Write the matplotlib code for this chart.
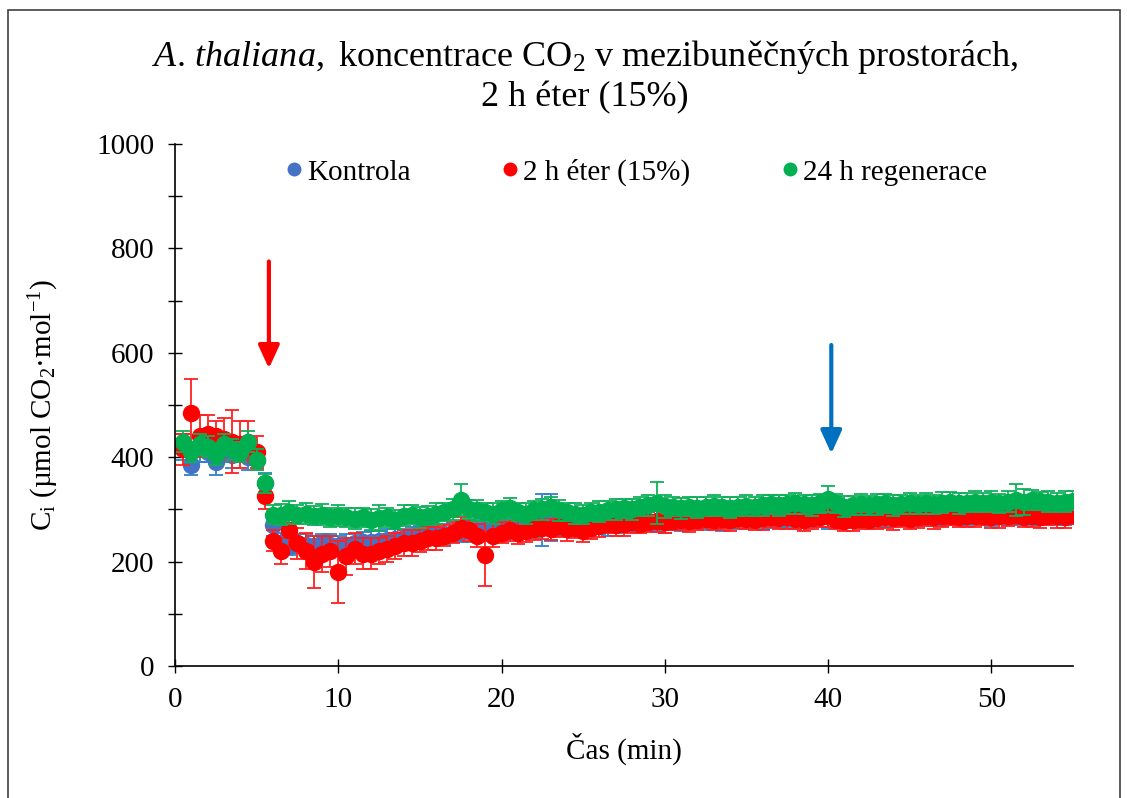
import numpy as np
import matplotlib
matplotlib.use("Agg")
import matplotlib.pyplot as plt
from matplotlib.lines import Line2D
from matplotlib.patches import Rectangle

plt.rcParams["font.family"] = ["Liberation Serif", "DejaVu Serif"]
plt.rcParams["mathtext.fontset"] = "custom"
plt.rcParams["mathtext.rm"] = "Liberation Serif"
plt.rcParams["mathtext.it"] = "Liberation Serif:italic"

# time axis, one reading every 30 s
cas = np.arange(0.5, 55.01, 0.5)

kontrola = [
    420, 385, 415, 410, 390, 410, 405, 410, 400, 395,
    350, 270, 235, 230, 235, 232, 230, 235, 232, 230,
    232, 235, 237, 238, 240, 242, 243, 245, 247, 248,
    250, 252, 253, 255, 257, 258, 258, 260, 262, 262,
    264, 265, 266, 268, 280, 285, 270, 268, 270, 270,
    272, 273, 274, 275, 275, 276, 277, 278, 278, 276,
    278, 279, 280, 280, 281, 282, 281, 282, 283, 283,
    284, 283, 284, 285, 284, 285, 286, 285, 286, 287,
    285, 284, 285, 286, 286, 287, 287, 288, 287, 288,
    288, 289, 289, 288, 289, 290, 289, 290, 290, 289,
    290, 290, 291, 290, 291, 290, 291, 290, 291, 292,
]
kontrola_err = [
    25, 20, 25, 20, 25, 20, 25, 20, 25, 20,
    20, 20, 20, 18, 18, 20, 20, 18, 20, 20,
    20, 18, 20, 20, 18, 20, 20, 18, 20, 20,
    18, 20, 20, 18, 20, 20, 18, 20, 20, 18,
    20, 18, 20, 20, 50, 45, 20, 18, 20, 20,
    18, 20, 25, 20, 18, 20, 20, 18, 20, 22,
    18, 20, 20, 18, 20, 20, 22, 18, 20, 20,
    18, 20, 20, 18, 20, 22, 20, 18, 20, 25,
    20, 18, 20, 20, 18, 20, 20, 22, 18, 20,
    20, 18, 20, 20, 18, 20, 20, 18, 20, 20,
    18, 20, 20, 18, 20, 20, 18, 20, 20, 18,
]

eter = [
    415, 485, 440, 445, 440, 435, 430, 425, 430, 410,
    325, 240, 220, 260, 235, 220, 200, 215, 220, 180,
    210, 225, 215, 215, 220, 225, 230, 235, 235, 240,
    245, 245, 250, 255, 265, 260, 250, 213, 250, 255,
    260, 255, 258, 262, 265, 262, 268, 262, 265, 258,
    265, 268, 272, 270, 272, 275, 273, 276, 278, 275,
    278, 280, 278, 280, 282, 280, 282, 280, 283, 282,
    280, 283, 285, 283, 285, 282, 280, 283, 285, 287,
    280, 278, 280, 282, 280, 283, 285, 283, 285, 282,
    285, 287, 285, 287, 288, 286, 288, 287, 288, 285,
    287, 288, 290, 286, 288, 285, 288, 287, 285, 290,
]
eter_err = [
    30, 65, 40, 35, 30, 40, 60, 45, 40, 30,
    25, 20, 25, 30, 30, 35, 50, 35, 30, 60,
    35, 30, 30, 30, 25, 25, 25, 25, 25, 22,
    22, 22, 20, 20, 20, 20, 22, 60, 22, 20,
    20, 22, 20, 20, 22, 20, 20, 22, 20, 20,
    22, 20, 18, 20, 22, 20, 18, 20, 22, 20,
    18, 20, 22, 20, 18, 20, 20, 22, 18, 20,
    20, 22, 18, 20, 22, 20, 22, 20, 18, 20,
    18, 20, 22, 20, 18, 20, 20, 22, 18, 20,
    20, 18, 22, 20, 18, 20, 22, 20, 18, 20,
    22, 20, 18, 20, 22, 20, 18, 22, 20, 18,
]

regenerace = [
    430, 410, 425, 420, 405, 425, 415, 410, 430, 395,
    350, 290, 290, 295, 290, 292, 288, 290, 285, 288,
    285, 282, 285, 280, 283, 285, 280, 288, 290, 285,
    288, 292, 295, 300, 318, 300, 298, 295, 292, 298,
    302, 295, 292, 298, 300, 305, 298, 295, 292, 290,
    295, 296, 298, 300, 302, 300, 305, 308, 312, 306,
    305, 302, 305, 303, 305, 307, 305, 303, 305, 307,
    305, 308, 310, 308, 310, 312, 310, 308, 312, 320,
    312, 305, 308, 310, 308, 310, 312, 308, 310, 312,
    310, 312, 310, 313, 315, 312, 313, 315, 313, 315,
    312, 315, 318, 315, 318, 316, 315, 313, 315, 317,
]
regenerace_err = [
    20, 20, 20, 20, 20, 20, 20, 20, 20, 20,
    18, 18, 20, 22, 18, 20, 18, 20, 18, 20,
    18, 20, 18, 20, 25, 18, 18, 20, 18, 20,
    18, 20, 18, 20, 30, 18, 20, 18, 20, 18,
    20, 18, 20, 18, 20, 18, 20, 18, 20, 18,
    18, 20, 18, 20, 18, 20, 18, 20, 40, 22,
    18, 20, 18, 20, 18, 20, 18, 20, 18, 20,
    18, 20, 18, 20, 18, 20, 18, 20, 18, 25,
    18, 20, 18, 20, 18, 20, 18, 20, 18, 20,
    18, 20, 18, 20, 18, 20, 18, 20, 18, 20,
    18, 20, 30, 25, 20, 18, 20, 18, 20, 18,
]

serie = [
    ("Kontrola", kontrola, kontrola_err, "#4472C4", "#2F80C8"),
    ("2 h éter (15%)", eter, eter_err, "#FF0000", "#FF2020"),
    ("24 h regenerace", regenerace, regenerace_err, "#00B050", "#10B058"),
]

fig = plt.figure(figsize=(11.27, 7.98), dpi=100)
ax = fig.add_axes([0.1553, 0.1654, 0.7967, 0.6541])

handles = []
for nazev, y, err, barva, barva_err in serie:
    ax.errorbar(cas, y, yerr=err, fmt="none", ecolor=barva_err, elinewidth=1.3,
                capsize=5, capthick=1.3)
    ax.plot(cas, y, "o", color=barva, markersize=11.5, linestyle="none")
    handles.append(Line2D([], [], marker="o", color=barva, linestyle="none",
                          markersize=9, label=nazev))

# arrows marking the treatment and the recovery measurement
ax.annotate("", xy=(5.75, 570), xytext=(5.75, 775),
            arrowprops=dict(arrowstyle="-|>,head_length=0.7,head_width=0.32",
                            color="#FF0000", lw=3, mutation_scale=20,
                            shrinkA=0, shrinkB=0))
ax.annotate("", xy=(40.2, 407), xytext=(40.2, 615),
            arrowprops=dict(arrowstyle="-|>,head_length=0.7,head_width=0.32",
                            color="#0070C0", lw=3, mutation_scale=20,
                            shrinkA=0, shrinkB=0))

ax.set_xlim(0, 55)
ax.set_ylim(0, 1000)
ax.set_xticks([0, 10, 20, 30, 40, 50])
ax.set_yticks(range(0, 1001, 200))
ax.set_yticks(range(100, 1000, 200), minor=True)
ax.tick_params(axis="both", which="both", direction="inout", length=10,
               width=1, labelsize=21)
ax.tick_params(axis="y", pad=10)
ax.tick_params(axis="x", pad=10)
for s in ("top", "right"):
    ax.spines[s].set_visible(False)
for s in ("left", "bottom"):
    ax.spines[s].set_linewidth(1.2)

ax.set_xlabel("Čas (min)", fontsize=21, labelpad=14)
ax.set_ylabel(r"C$_\mathrm{i}$ (µmol CO$_2$·mol$^{\mathrm{-1}}$)", fontsize=21,
              labelpad=25)

fig.text(0.519, 0.928,
         r"$\mathit{A.}\,\mathit{thaliana,}\ $koncentrace CO$_2$ v mezibuněčných prostorách,",
         ha="center", va="center", fontsize=26)
fig.text(0.519, 0.878, "2 h éter (15%)", ha="center", va="center", fontsize=26)

ax.legend(handles=handles, loc="center", bbox_to_anchor=(0.512, 0.946), ncol=3,
          frameon=False, fontsize=21, handletextpad=0.05, columnspacing=3.0,
          handlelength=0.8)

# outer frame
fig.patches.append(Rectangle((8 / 1127, -0.05), 1112 / 1127, 1.05 - 10 / 798,
                             transform=fig.transFigure, fill=False,
                             edgecolor="#404040", linewidth=1.2))

fig.savefig("out.png", dpi=100)
